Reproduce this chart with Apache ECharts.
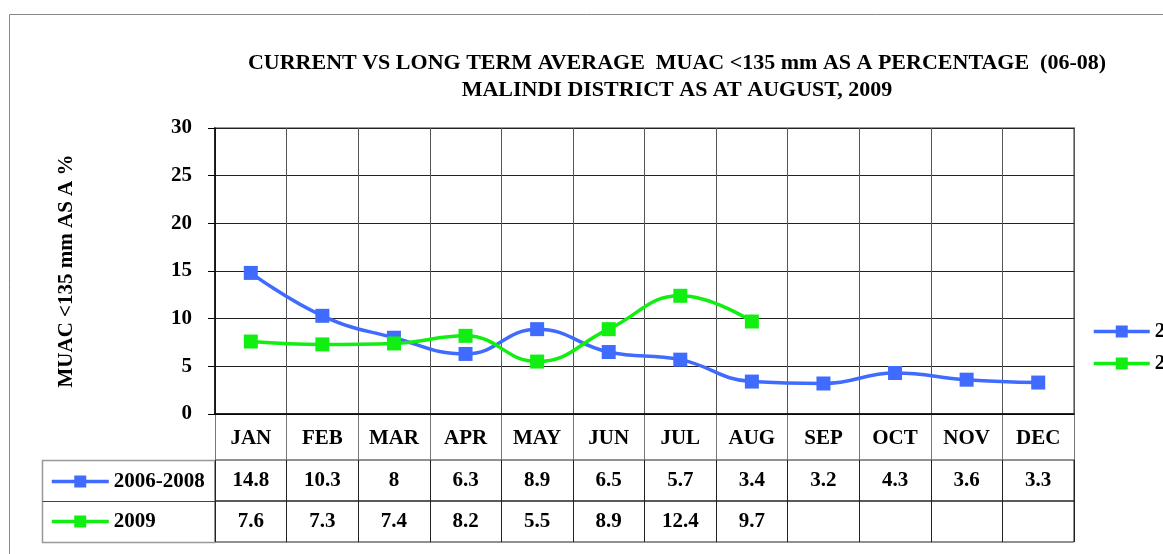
<!DOCTYPE html>
<html>
<head>
<meta charset="utf-8">
<script src="https://cdn.jsdelivr.net/npm/echarts@6/dist/echarts.min.js"></script>
<style>
  html, body { margin: 0; padding: 0; background: #fff; }
  #chart { width: 1163px; height: 554px; }
</style>
</head>
<body>
<div id="chart"></div>
<script>
// data
const months = ['JAN', 'FEB', 'MAR', 'APR', 'MAY', 'JUN', 'JUL', 'AUG', 'SEP', 'OCT', 'NOV', 'DEC'];
const avg0608 = [14.8, 10.3, 8, 6.3, 8.9, 6.5, 5.7, 3.4, 3.2, 4.3, 3.6, 3.3];
const y2009 = [7.6, 7.3, 7.4, 8.2, 5.5, 8.9, 12.4, 9.7, null, null, null, null];
const yTicks = [0, 5, 10, 15, 20, 25, 30];
const seriesNames = ['2006-2008', '2009'];

const BLUE = '#3f6bff';
const GREEN = '#11ee11';
const font = 'Liberation Serif';

const chart = echarts.init(document.getElementById('chart'));

// table rows built from the same arrays
const rowData = (vals, row) => months.map((m, i) => [m, row, vals[i]]);

const txt = { fontFamily: font, fontWeight: 'bold', color: '#000' };

const cellLabel = Object.assign({
  show: true, position: 'inside', fontSize: 21, textBorderWidth: 0, opacity: 1,
  formatter: p => (p.value[2] == null ? '' : String(p.value[2]))
}, txt);

const option = {
  animation: false,
  backgroundColor: '#fff',
  title: {
    text: 'CURRENT VS LONG TERM AVERAGE  MUAC <135 mm AS A PERCENTAGE  (06-08)\nMALINDI DISTRICT AS AT AUGUST, 2009',
    left: 672, top: 45, textAlign: 'center',
    textStyle: Object.assign({ fontSize: 22, lineHeight: 27 }, txt)
  },
  legend: [
    {
      orient: 'vertical', left: 1092, top: 321, itemGap: 11, padding: 0,
      itemWidth: 56, itemHeight: 15,
      data: seriesNames,
      lineStyle: { width: 3.5 },
      textStyle: Object.assign({ fontSize: 21 }, txt)
    },
    {
      orient: 'vertical', left: 50, top: 471, itemGap: 19, padding: 0,
      itemWidth: 57, itemHeight: 15,
      data: seriesNames,
      lineStyle: { width: 3.5 },
      textStyle: Object.assign({ fontSize: 21 }, txt)
    }
  ],
  grid: [
    { left: 215, top: 128, width: 859, height: 286, show: true, borderColor: '#999', borderWidth: 2 },
    { left: 215, top: 414, width: 859, height: 46 },
    { left: 215, top: 460, width: 859, height: 41, show: true, borderColor: '#222', borderWidth: 1 },
    { left: 215, top: 501, width: 859, height: 41, show: true, borderColor: '#222', borderWidth: 1 }
  ],
  xAxis: [
    {
      gridIndex: 0, type: 'category', data: months, boundaryGap: true,
      axisLine: { lineStyle: { color: '#000', width: 1.5 } },
      axisTick: { show: false },
      axisLabel: Object.assign({ fontSize: 21, margin: 14, interval: 0 }, txt),
      splitLine: { show: true, interval: 0, lineStyle: { color: '#555', width: 1 } }
    },
    {
      gridIndex: 1, type: 'category', data: months,
      axisLine: { show: false }, axisTick: { show: false }, axisLabel: { show: false },
      splitLine: { show: true, interval: 0, lineStyle: { color: '#777', width: 1 } }
    },
    {
      gridIndex: 2, type: 'category', data: months,
      axisLine: { show: false }, axisTick: { show: false }, axisLabel: { show: false },
      splitLine: { show: true, interval: 0, lineStyle: { color: '#222', width: 1 } }
    },
    {
      gridIndex: 3, type: 'category', data: months,
      axisLine: { show: false }, axisTick: { show: false }, axisLabel: { show: false },
      splitLine: { show: true, interval: 0, lineStyle: { color: '#222', width: 1 } }
    }
  ],
  yAxis: [
    {
      gridIndex: 0, type: 'value', min: 0, max: 30, interval: 5,
      name: 'MUAC <135 mm AS A %', nameLocation: 'middle', nameGap: 138, nameRotate: 90,
      nameTextStyle: Object.assign({ fontSize: 21 }, txt),
      axisLine: { show: true, lineStyle: { color: '#000', width: 1.5 } },
      axisTick: { show: true, length: 7, lineStyle: { color: '#000' } },
      axisLabel: Object.assign({ fontSize: 21, margin: 23,
        formatter: v => (yTicks.indexOf(v) >= 0 ? v : '') }, txt),
      splitLine: { show: true, lineStyle: { color: '#222', width: 1 } }
    },
    { gridIndex: 1, type: 'category', data: ['h'], show: false },
    { gridIndex: 2, type: 'category', data: [seriesNames[0]], show: false },
    { gridIndex: 3, type: 'category', data: [seriesNames[1]], show: false }
  ],
  graphic: [
    { type: 'rect', silent: true, z: -1, shape: { x: 9.5, y: 14.5, width: 1160, height: 545 },
      style: { fill: null, stroke: '#888', lineWidth: 1 } },
    { type: 'rect', silent: true, shape: { x: 42.5, y: 460.5, width: 172.5, height: 82 },
      style: { fill: null, stroke: '#999', lineWidth: 1.5 } },
    { type: 'line', silent: true, shape: { x1: 42.5, y1: 501.5, x2: 215, y2: 501.5 },
      style: { stroke: '#444', lineWidth: 1 } }
  ],
  series: [
    {
      name: seriesNames[0], type: 'line', xAxisIndex: 0, yAxisIndex: 0,
      data: avg0608, smooth: 0.45,
      symbol: 'rect', symbolSize: 14,
      lineStyle: { color: BLUE, width: 3.5 },
      itemStyle: { color: BLUE }
    },
    {
      name: seriesNames[1], type: 'line', xAxisIndex: 0, yAxisIndex: 0,
      data: y2009, smooth: 0.45,
      symbol: 'rect', symbolSize: 14,
      lineStyle: { color: GREEN, width: 3.5 },
      itemStyle: { color: GREEN }
    },
    {
      type: 'scatter', xAxisIndex: 2, yAxisIndex: 2, symbolSize: 0, silent: true,
      itemStyle: { opacity: 1 },
      data: rowData(avg0608, seriesNames[0]),
      label: cellLabel
    },
    {
      type: 'scatter', xAxisIndex: 3, yAxisIndex: 3, symbolSize: 0, silent: true,
      itemStyle: { opacity: 1 },
      data: rowData(y2009, seriesNames[1]),
      label: cellLabel
    }
  ]
};

chart.setOption(option);
</script>
</body>
</html>
